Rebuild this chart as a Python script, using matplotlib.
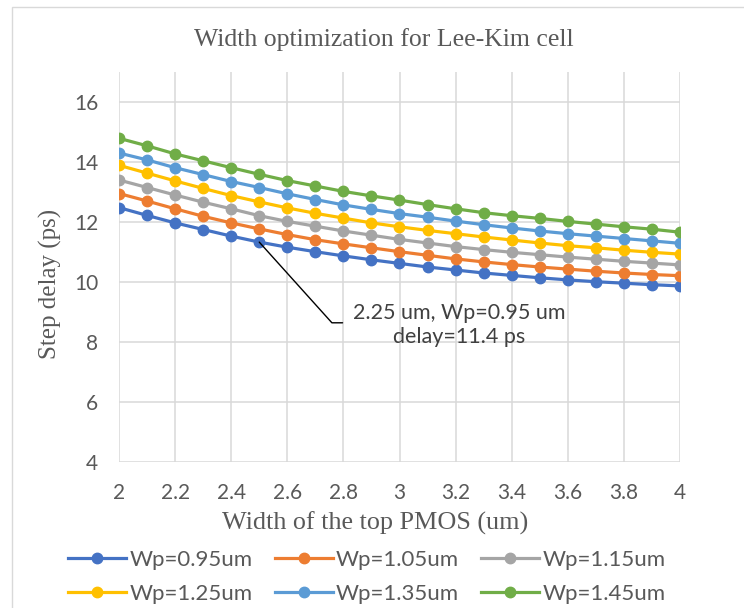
import numpy as np
import matplotlib
matplotlib.use("Agg")
import matplotlib.pyplot as plt
from matplotlib.patches import Rectangle

# top PMOS width (um)
width = [2.0, 2.1, 2.2, 2.3, 2.4, 2.5, 2.6, 2.7, 2.8, 2.9, 3.0,
         3.1, 3.2, 3.3, 3.4, 3.5, 3.6, 3.7, 3.8, 3.9, 4.0]

# step delay (ps) for each Wp
wp095 = [12.48, 12.22, 11.97, 11.75, 11.53, 11.33, 11.16, 11.01, 10.87, 10.74, 10.62,
         10.50, 10.40, 10.30, 10.22, 10.14, 10.07, 10.01, 9.96, 9.91, 9.87]
wp105 = [12.95, 12.70, 12.44, 12.19, 11.97, 11.77, 11.58, 11.41, 11.27, 11.14, 11.01,
         10.89, 10.77, 10.67, 10.58, 10.50, 10.43, 10.36, 10.30, 10.25, 10.21]
wp115 = [13.40, 13.15, 12.90, 12.66, 12.44, 12.21, 12.02, 11.86, 11.70, 11.56, 11.42,
         11.30, 11.18, 11.08, 10.99, 10.91, 10.83, 10.76, 10.69, 10.63, 10.57]
wp125 = [13.89, 13.63, 13.37, 13.12, 12.88, 12.67, 12.47, 12.29, 12.13, 11.97, 11.84,
         11.72, 11.61, 11.50, 11.40, 11.30, 11.21, 11.14, 11.06, 10.99, 10.93]
wp135 = [14.30, 14.07, 13.81, 13.58, 13.35, 13.15, 12.94, 12.75, 12.57, 12.42, 12.28,
         12.16, 12.03, 11.91, 11.80, 11.70, 11.61, 11.53, 11.45, 11.37, 11.29]
wp145 = [14.79, 14.54, 14.27, 14.04, 13.81, 13.59, 13.38, 13.20, 13.02, 12.87, 12.73,
         12.58, 12.44, 12.31, 12.21, 12.12, 12.02, 11.93, 11.84, 11.76, 11.66]

labels = ["Wp=0.95um", "Wp=1.05um", "Wp=1.15um", "Wp=1.25um", "Wp=1.35um", "Wp=1.45um"]
series = [wp095, wp105, wp115, wp125, wp135, wp145]
colors = ["#4472C4", "#ED7D31", "#A5A5A5", "#FFC000", "#5B9BD5", "#70AD47"]

text_col = "#595959"
serif = "Liberation Serif"
sans = "Lato"

fig = plt.figure(figsize=(7.44, 6.08), dpi=100)
fig.patches.append(Rectangle((12 / 744, -0.2), 1.2, 1.2 - 7 / 608,
                             transform=fig.transFigure, fill=False,
                             edgecolor="#D9D9D9", linewidth=1.0))
ax = fig.add_axes([119 / 744, 1 - 462 / 608, (680 - 119) / 744, (462 - 72) / 608])

lines = []
for ys, lab, c in zip(series, labels, colors):
    ln, = ax.plot(width, ys, color=c, lw=2.3, marker="o", ms=7.5, label=lab)
    lines.append(ln)

ax.set_xlim(2, 4)
ax.set_ylim(4, 17)
ax.set_xticks(np.arange(2, 4.01, 0.2))
ax.set_xticklabels(["2", "2.2", "2.4", "2.6", "2.8", "3", "3.2", "3.4", "3.6", "3.8", "4"])
ax.set_yticks([4, 6, 8, 10, 12, 14, 16])
ax.grid(True, color="#D9D9D9", lw=1.1)
ax.set_axisbelow(True)
for s in ax.spines.values():
    s.set_visible(False)
ax.tick_params(length=0, labelsize=15, labelcolor=text_col, pad=15)
for t in ax.get_xticklabels() + ax.get_yticklabels():
    t.set_fontfamily(sans)

# chart title is centred on the chart area, not the plot area
fig.text(384 / 744, 1 - 40 / 608, "Width optimization for Lee-Kim cell",
         fontfamily=serif, fontsize=18.5, color=text_col, ha="center", va="center")
ax.set_xlabel("Width of the top PMOS (um)", fontfamily=serif, fontsize=18.8,
              color=text_col)
ax.xaxis.set_label_coords((375 - 119) / 561, -(523 - 462) / 390)
ax.xaxis.label.set_va("center")
ax.set_ylabel("Step delay (ps)", fontfamily=serif, fontsize=18,
              color=text_col)
ax.yaxis.set_label_coords(-(119 - 50) / 561, (462 - 284) / 390)
ax.yaxis.label.set_va("center")

# callout on Wp=0.95um at x=2.5
ax.annotate("", xy=(width[5], wp095[5]), xytext=(2.797, 8.64),
            arrowprops=dict(arrowstyle="-", color="black", lw=1.0,
                            shrinkA=0, shrinkB=0,
                            connectionstyle="angle,angleA=0,angleB=-48"))
ax.text(3.214, 8.57, "2.25 um, Wp=0.95 um\ndelay=11.4 ps", ha="center", va="center",
        fontfamily=sans, fontsize=15.5, color="#404040", linespacing=1.25)

# row-wise legend order for a 3 x 2 layout
order = [0, 3, 1, 4, 2, 5]
fig.legend([lines[i] for i in order], [labels[i] for i in order],
           loc="center", bbox_to_anchor=(367 / 744, 1 - 577 / 608), ncol=3,
           frameon=False, prop={"family": sans, "size": 16},
           handlelength=2.6, handletextpad=0.15, columnspacing=1.0,
           labelspacing=0.65, labelcolor=text_col)

fig.savefig("out.png", dpi=100)
